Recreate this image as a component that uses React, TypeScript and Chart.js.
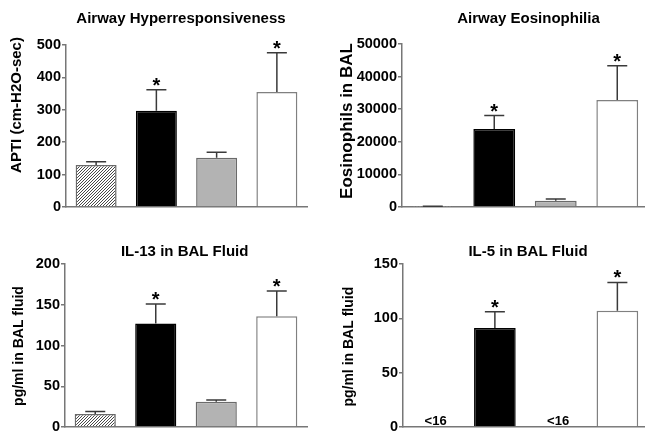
import React, { useEffect, useRef } from "react";
import { Chart, registerables } from "chart.js";

Chart.register(...registerables);

// ---- data ----
const groups = ["Group 1", "Group 2", "Group 3", "Group 4"];

const ahrValues = [130, 297, 152, 355];
const ahrErrors = [10, 65, 17, 121];
const ahrTicks = [0, 100, 200, 300, 400, 500];

const eosValues = [150, 23900, 1950, 32800];
const eosErrors = [60, 4150, 500, 10550];
const eosTicks = [0, 10000, 20000, 30000, 40000, 50000];

const il13Values = [16, 127, 31, 136];
const il13Errors = [3, 24, 2, 31];
const il13Ticks = [0, 50, 100, 150, 200];

const il5Values: (number | null)[] = [null, 91, null, 107];
const il5Errors = [0, 15, 0, 26];
const il5Ticks = [0, 50, 100, 150];
const il5Notes = ["<16", "", "<16", ""];

const significant = [false, true, false, true];

const titles = [
  "Airway Hyperresponsiveness",
  "Airway Eosinophilia",
  "IL-13 in BAL Fluid",
  "IL-5 in BAL Fluid",
];
const yTitles = ["APTI (cm-H2O-sec)", "Eosinophils in BAL", "pg/ml in BAL fluid", "pg/ml in BAL fluid"];

// ---- layout / style ----
const FONT = '"Liberation Sans", Arial, Helvetica, sans-serif';
const AXIS_COLOR = "#777777";
const ERR_COLOR = "#3a3a3a";

type Spec = {
  title: string;
  yTitle: string;
  values: (number | null)[];
  errors: number[];
  ticks: number[];
  notes?: string[];
  box: [number, number, number, number];
  area: [number, number, number, number];
  titlePos: [number, number];
  yTitlePos: [number, number];
  yTitleSize: number;
};

const specs: Spec[] = [
  {
    title: titles[0], yTitle: yTitles[0], values: ahrValues, errors: ahrErrors, ticks: ahrTicks,
    box: [0, 0, 322, 216], area: [66, 45, 307, 207], titlePos: [181, 22.5], yTitlePos: [17, 105], yTitleSize: 15,
  },
  {
    title: titles[1], yTitle: yTitles[1], values: eosValues, errors: eosErrors, ticks: eosTicks,
    box: [322, 0, 330, 216], area: [80, 44, 326, 207], titlePos: [206.5, 23], yTitlePos: [25, 121], yTitleSize: 17,
  },
  {
    title: titles[2], yTitle: yTitles[2], values: il13Values, errors: il13Errors, ticks: il13Ticks,
    box: [0, 216, 322, 217], area: [65, 48, 307, 211], titlePos: [184.7, 40], yTitlePos: [19.5, 130], yTitleSize: 14,
  },
  {
    title: titles[3], yTitle: yTitles[3], values: il5Values, errors: il5Errors, ticks: il5Ticks, notes: il5Notes,
    box: [322, 216, 330, 217], area: [81, 48, 326, 211], titlePos: [206, 40], yTitlePos: [27, 130.7], yTitleSize: 14,
  },
];

function makeHatch(): CanvasPattern | string {
  const s = 3;
  const c = document.createElement("canvas");
  c.width = s;
  c.height = s;
  const g = c.getContext("2d");
  if (!g) return "#999";
  g.fillStyle = "#ffffff";
  g.fillRect(0, 0, s, s);
  g.strokeStyle = "#333333";
  g.lineWidth = 0.9;
  g.beginPath();
  g.moveTo(-1, s + 1);
  g.lineTo(s + 1, -1);
  g.moveTo(-1, 1);
  g.lineTo(1, -1);
  g.moveTo(s - 1, s + 1);
  g.lineTo(s + 1, s - 1);
  g.stroke();
  return g.createPattern(c, "repeat") || "#999";
}

function Panel({ spec }: { spec: Spec }) {
  const ref = useRef<HTMLCanvasElement>(null);
  useEffect(() => {
    const canvas = ref.current;
    if (!canvas) return;
    const [, , w, h] = spec.box;
    const [aL, aT, aR, aB] = spec.area;
    const hatch = makeHatch();
    const overlay = {
      id: "overlay",
      afterDatasetsDraw(chart: any) {
        const ctx = chart.ctx as CanvasRenderingContext2D;
        const xs = chart.scales.x;
        const ys = chart.scales.y;
        ctx.save();
        spec.values.forEach((v, i) => {
          const x = xs.getPixelForValue(i);
          if (v !== null && v !== undefined) {
            const err = spec.errors[i] || 0;
            const base = ys.getPixelForValue(v);
            const top = ys.getPixelForValue(v + err);
            ctx.strokeStyle = ERR_COLOR;
            ctx.lineWidth = 1.5;
            ctx.beginPath();
            ctx.moveTo(x, base);
            ctx.lineTo(x, top);
            ctx.moveTo(x - 10, top);
            ctx.lineTo(x + 10, top);
            ctx.stroke();
            if (significant[i]) {
              ctx.fillStyle = "#000";
              ctx.font = `bold 20px ${FONT}`;
              ctx.textAlign = "center";
              ctx.textBaseline = "alphabetic";
              ctx.fillText("*", x, top + 2);
            }
          }
          const note = spec.notes ? spec.notes[i] : "";
          if (note) {
            ctx.fillStyle = "#000";
            ctx.font = `bold 13px ${FONT}`;
            ctx.textAlign = "center";
            ctx.textBaseline = "alphabetic";
            ctx.fillText(note, x + 2, chart.chartArea.bottom - 2);
          }
        });
        ctx.fillStyle = "#000";
        ctx.font = `bold 15px ${FONT}`;
        ctx.textAlign = "center";
        ctx.textBaseline = "alphabetic";
        ctx.fillText(spec.title, spec.titlePos[0], spec.titlePos[1]);
        ctx.translate(spec.yTitlePos[0], spec.yTitlePos[1]);
        ctx.rotate(-Math.PI / 2);
        ctx.font = `bold ${spec.yTitleSize}px ${FONT}`;
        ctx.textBaseline = "middle";
        ctx.fillText(spec.yTitle, 0, 0);
        ctx.restore();
      },
    };
    const chart = new Chart(canvas, {
      type: "bar",
      data: {
        labels: groups,
        datasets: [
          {
            data: spec.values as any,
            backgroundColor: [hatch as any, "#000000", "#b3b3b3", "#ffffff"],
            borderColor: ["#6a6a6a", "#000000", "#6a6a6a", "#808080"],
            borderWidth: 1.5,
            categoryPercentage: 1,
            barPercentage: 0.68,
          },
        ],
      },
      options: {
        responsive: false,
        animation: false,
        devicePixelRatio: 1,
        layout: { padding: { left: 0, top: aT, right: w - aR, bottom: h - aB } },
        plugins: { legend: { display: false }, tooltip: { enabled: false }, title: { display: false } },
        scales: {
          x: {
            ticks: { display: false },
            grid: { display: false, drawTicks: false },
            border: { display: true, color: AXIS_COLOR, width: 1.5 },
            afterFit: (s: any) => {
              s.height = 0;
              s.paddingLeft = 0;
              s.paddingRight = 0;
            },
          },
          y: {
            min: spec.ticks[0],
            max: spec.ticks[spec.ticks.length - 1],
            afterBuildTicks: (s: any) => {
              s.ticks = spec.ticks.map((t) => ({ value: t }));
            },
            ticks: {
              color: "#000",
              font: { family: FONT, size: 14.5, weight: "bold" },
              padding: 1,
              callback: (val: any) => String(val),
            },
            grid: { drawOnChartArea: false, drawTicks: true, tickLength: 4, color: AXIS_COLOR, lineWidth: 1.5 },
            border: { display: true, color: AXIS_COLOR, width: 1.5 },
            afterFit: (s: any) => {
              s.width = aL;
              s.paddingTop = 0;
              s.paddingBottom = 0;
            },
          },
        },
      },
      plugins: [overlay],
    });
    return () => chart.destroy();
  }, [spec]);
  const [l, t, w, h] = spec.box;
  return (
    <canvas
      ref={ref}
      width={w}
      height={h}
      style={{ position: "absolute", left: l, top: t, width: w, height: h }}
    />
  );
}

export default function App() {
  return (
    <div
      style={{
        position: "absolute",
        left: 0,
        top: 0,
        width: 645,
        height: 433,
        overflow: "hidden",
        background: "#ffffff",
      }}
    >
      {specs.map((s, i) => (
        <Panel key={i} spec={s} />
      ))}
    </div>
  );
}
